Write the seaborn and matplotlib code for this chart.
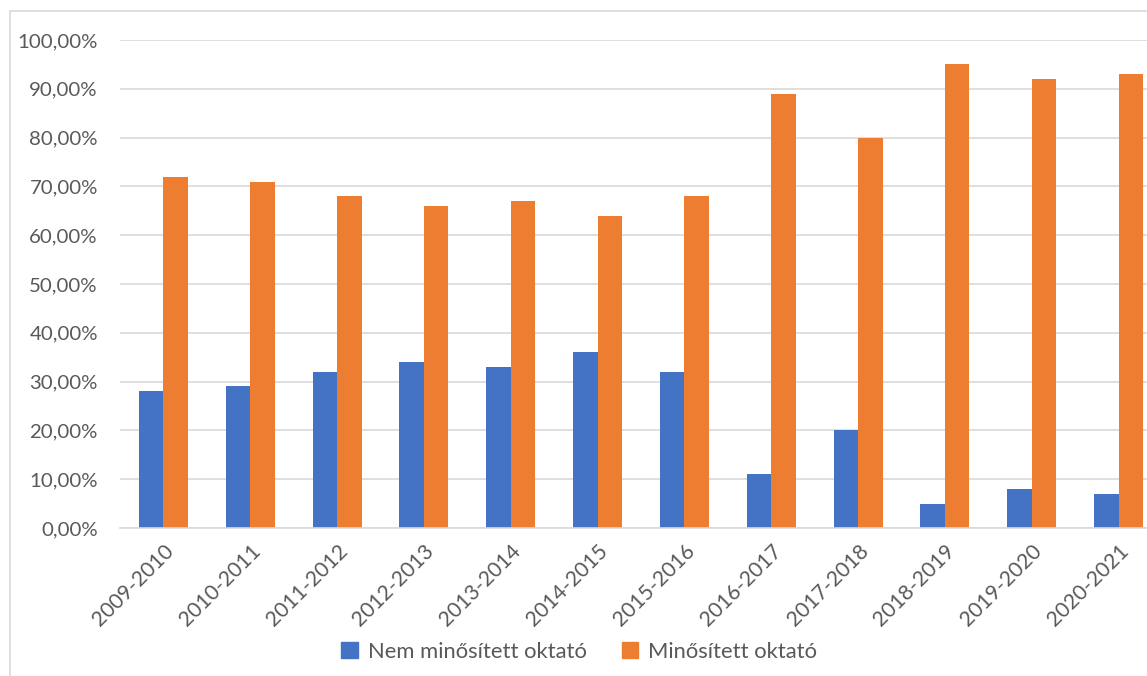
import pandas as pd
import matplotlib.pyplot as plt
import matplotlib.ticker as mticker
import seaborn as sns
from matplotlib.patches import Rectangle

# school years and shares of the two teacher groups
years = ["2009-2010", "2010-2011", "2011-2012", "2012-2013", "2013-2014", "2014-2015",
         "2015-2016", "2016-2017", "2017-2018", "2018-2019", "2019-2020", "2020-2021"]
nem_minositett = [0.28, 0.29, 0.32, 0.34, 0.33, 0.36, 0.32, 0.11, 0.20, 0.05, 0.08, 0.07]
minositett = [0.72, 0.71, 0.68, 0.66, 0.67, 0.64, 0.68, 0.89, 0.80, 0.95, 0.92, 0.93]
series_names = ["Nem minősített oktató", "Minősített oktató"]
colors = ["#4472C4", "#ED7D31"]

df = pd.DataFrame({
    "year": years * 2,
    "value": nem_minositett + minositett,
    "series": [series_names[0]] * len(years) + [series_names[1]] * len(years),
})

sns.set_style("white")
plt.rcParams["font.family"] = ["Lato", "DejaVu Sans"]
text_color = "#595959"

fig = plt.figure(figsize=(11.47, 6.76), dpi=100)
# axes runs past the right edge, like the cropped original
ax = fig.add_axes([120 / 1147, 148 / 676, 1042 / 1147, 488 / 676])

sns.barplot(data=df, x="year", y="value", hue="series", palette=colors,
            width=0.565, gap=0, saturation=1, linewidth=0, ax=ax, legend=False)

ax.set_xlim(-0.5, len(years) - 0.5)
ax.set_ylim(0, 1.0)
ax.yaxis.set_major_locator(mticker.MultipleLocator(0.1))
ax.yaxis.set_major_formatter(mticker.FuncFormatter(lambda v, p: f"{v * 100:.2f}%".replace(".", ",")))
ax.grid(axis="y", color="#D9D9D9", linewidth=1.2)
ax.set_axisbelow(True)
for s in ["top", "right", "left"]:
    ax.spines[s].set_visible(False)
ax.spines["bottom"].set_color("#D9D9D9")
ax.spines["bottom"].set_linewidth(1.2)
ax.tick_params(axis="both", length=0, labelsize=14.7, colors=text_color)
ax.tick_params(axis="y", pad=16)
ax.tick_params(axis="x", labelsize=15.2, pad=9)
for lbl in ax.get_xticklabels():
    lbl.set_rotation(45)
    lbl.set_ha("right")
    lbl.set_rotation_mode("anchor")
ax.set_xlabel("")
ax.set_ylabel("")

handles = [Rectangle((0, 0), 1, 1, color=c) for c in colors]
fig.legend(handles, series_names, loc="center", bbox_to_anchor=(0.505, 0.036), ncol=2,
           frameon=False, fontsize=15.8, labelcolor=text_color, handlelength=0.75,
           handleheight=0.75, handletextpad=0.45, columnspacing=1.6)

# light frame of the chart area
fig.patches.append(Rectangle((10 / 1147, -0.1), 1.2, 0.1 + 665 / 676, transform=fig.transFigure,
                             fill=False, edgecolor="#D9D9D9", linewidth=1.2))

fig.savefig("out.png", dpi=100)
